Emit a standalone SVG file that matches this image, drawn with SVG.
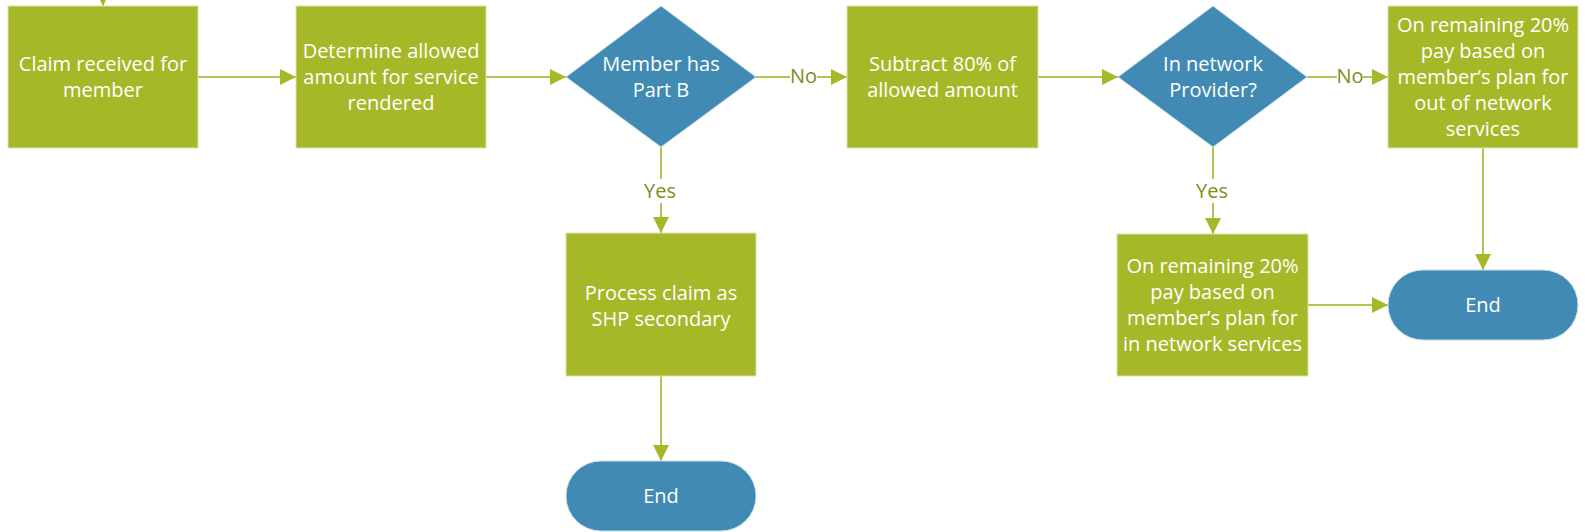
<svg xmlns="http://www.w3.org/2000/svg" width="1585" height="532" viewBox="0 0 1585 532">
<style>
.proc{fill:#A6B828;stroke:#DDE3B0;stroke-width:1}
.dec{fill:#418AB3;stroke:#C9DCE8;stroke-width:1}
.term{fill:#418AB3;stroke:#C9DCE8;stroke-width:1}
.t{font-family:"Open Sans","Noto Sans","DejaVu Sans",sans-serif;font-size:20px;fill:#FFFFFF;text-anchor:middle}
.lbl{font-family:"Open Sans","Noto Sans","DejaVu Sans",sans-serif;font-size:20px;fill:#7D8C1A;text-anchor:middle}
.c{fill:none;stroke:#B4C452;stroke-width:2}
.bg{fill:#FFFFFF}
</style>
<defs>
<marker id="ah" markerUnits="userSpaceOnUse" markerWidth="16" markerHeight="16" refX="16" refY="8" orient="auto">
<path d="M0,0 L16,8 L0,16 z" fill="#A6B828"/>
</marker>
</defs>
<rect width="1585" height="532" fill="#FFFFFF"/>
<g id="connectors">
<path class="c" d="M103,-20 L103,6" marker-end="url(#ah)"/>
<path class="c" d="M198,77 L296,77" marker-end="url(#ah)"/>
<path class="c" d="M486,77 L566,77" marker-end="url(#ah)"/>
<path class="c" d="M756,77 L847,77" marker-end="url(#ah)"/>
<path class="c" d="M1038,77 L1118,77" marker-end="url(#ah)"/>
<path class="c" d="M1307,77 L1388,77" marker-end="url(#ah)"/>
<path class="c" d="M661,147 L661,233" marker-end="url(#ah)"/>
<path class="c" d="M1213,147 L1213,234" marker-end="url(#ah)"/>
<path class="c" d="M661,376 L661,461" marker-end="url(#ah)"/>
<path class="c" d="M1308,305 L1388,305" marker-end="url(#ah)"/>
<path class="c" d="M1483,148 L1483,270" marker-end="url(#ah)"/>
<rect class="bg" x="790" y="66" width="27" height="22"/>
<text class="lbl" x="803.5" y="83">No</text>
<rect class="bg" x="1337" y="66" width="26" height="22"/>
<text class="lbl" x="1350" y="83">No</text>
<rect class="bg" x="643" y="179" width="34" height="24"/>
<text class="lbl" x="660" y="198">Yes</text>
<rect class="bg" x="1196" y="179" width="34" height="24"/>
<text class="lbl" x="1212" y="198">Yes</text>
</g>
<g id="n1">
<rect class="proc" x="8" y="6" width="190" height="142"/>
<text class="t" x="103" y="71">Claim received for</text>
<text class="t" x="103" y="97">member</text>
</g>
<g id="n2">
<rect class="proc" x="296" y="6" width="190" height="142"/>
<text class="t" x="391" y="58">Determine allowed</text>
<text class="t" x="391" y="84">amount for service</text>
<text class="t" x="391" y="110">rendered</text>
</g>
<g id="d1">
<polygon class="dec" points="661,6 756,77 661,147 566,77"/>
<text class="t" x="661" y="71">Member has</text>
<text class="t" x="661" y="97">Part B</text>
</g>
<g id="n3">
<rect class="proc" x="847" y="6" width="191" height="142"/>
<text class="t" x="942.5" y="71">Subtract 80% of</text>
<text class="t" x="942.5" y="97">allowed amount</text>
</g>
<g id="d2">
<polygon class="dec" points="1213,6 1307,77 1213,147 1118,77"/>
<text class="t" x="1213" y="71">In network</text>
<text class="t" x="1213" y="97">Provider?</text>
</g>
<g id="n5">
<rect class="proc" x="1388" y="6" width="190" height="142"/>
<text class="t" x="1483" y="32">On remaining 20%</text>
<text class="t" x="1483" y="58">pay based on</text>
<text class="t" x="1483" y="84">member’s plan for</text>
<text class="t" x="1483" y="110">out of network</text>
<text class="t" x="1483" y="136">services</text>
</g>
<g id="n4">
<rect class="proc" x="566" y="233" width="190" height="143"/>
<text class="t" x="661" y="299.5">Process claim as</text>
<text class="t" x="661" y="325.5">SHP secondary</text>
</g>
<g id="n6">
<rect class="proc" x="1117" y="234" width="191" height="142"/>
<text class="t" x="1212.5" y="273">On remaining 20%</text>
<text class="t" x="1212.5" y="299">pay based on</text>
<text class="t" x="1212.5" y="325">member’s plan for</text>
<text class="t" x="1212.5" y="351">in network services</text>
</g>
<g id="end1">
<rect class="term" x="566" y="461" width="190" height="70" rx="35" ry="35"/>
<text class="t" x="661" y="503">End</text>
</g>
<g id="end2">
<rect class="term" x="1388" y="270" width="190" height="70" rx="35" ry="35"/>
<text class="t" x="1483" y="312">End</text>
</g>
</svg>
